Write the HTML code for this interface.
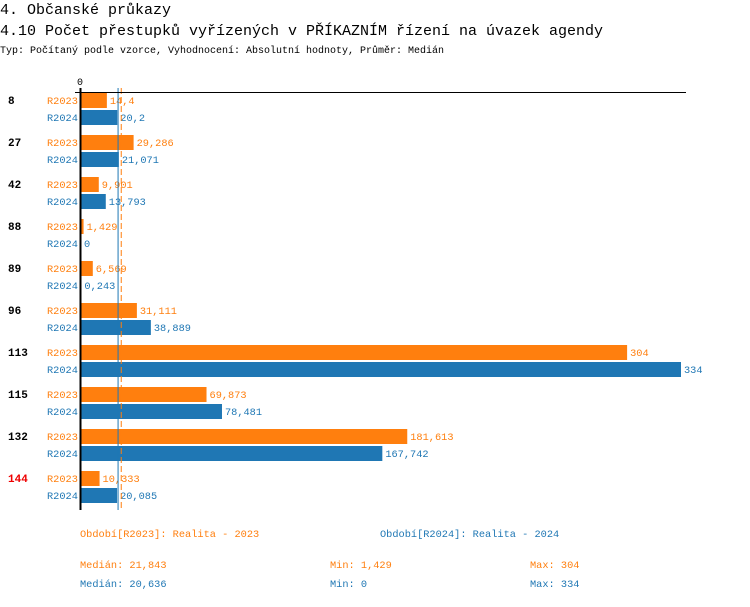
<!DOCTYPE html>
<html><head><meta charset="utf-8"><style>
body{margin:0;background:#fff;width:750px;height:602px;overflow:hidden;font-family:"Liberation Mono",monospace;}
svg text{font-family:"Liberation Mono",monospace;}
</style></head><body>
<svg width="750" height="602">
<text x="0" y="14" font-size="15" textLength="171" lengthAdjust="spacingAndGlyphs" fill="#000">4. Občanské průkazy</text>
<text x="0" y="35" font-size="15" textLength="603" lengthAdjust="spacingAndGlyphs" fill="#000">4.10 Počet přestupků vyřízených v PŘÍKAZNÍM řízení na úvazek agendy</text>
<text x="0" y="53" font-size="10" textLength="444" lengthAdjust="spacingAndGlyphs" fill="#000">Typ: Počítaný podle vzorce, Vyhodnocení: Absolutní hodnoty, Průměr: Medián</text>
<g id="plot"></g>
<g>
<text x="80" y="537" font-size="10.3" fill="#ff7f0e">Období[R2023]: Realita - 2023</text>
<text x="380" y="537" font-size="10.3" fill="#1f77b4">Období[R2024]: Realita - 2024</text>
<text x="80" y="568" font-size="10.3" fill="#ff7f0e">Medián: 21,843</text>
<text x="330" y="568" font-size="10.3" fill="#ff7f0e">Min: 1,429</text>
<text x="530" y="568" font-size="10.3" fill="#ff7f0e">Max: 304</text>
<text x="80" y="587" font-size="10.3" fill="#1f77b4">Medián: 20,636</text>
<text x="330" y="587" font-size="10.3" fill="#1f77b4">Min: 0</text>
<text x="530" y="587" font-size="10.3" fill="#1f77b4">Max: 334</text>
</g>
</svg>
<script>
const categories=["8","27","42","88","89","96","113","115","132","144"];
const values2023=[14.4,29.286,9.901,1.429,6.569,31.111,304,69.873,181.613,10.333];
const values2024=[20.2,21.071,13.793,0,0.243,38.889,334,78.481,167.742,20.085];
const labels2023=["14,4","29,286","9,901","1,429","6,569","31,111","304","69,873","181,613","10,333"];
const labels2024=["20,2","21,071","13,793","0","0,243","38,889","334","78,481","167,742","20,085"];
const median2023=21.843, median2024=20.636;
const x0=81, scale=600/334;
const xs=v=>x0+v*scale;
const ns="http://www.w3.org/2000/svg";
const g=document.getElementById('plot');
function mk(t,a){const e=document.createElementNS(ns,t);for(const k in a)e.setAttribute(k,a[k]);g.appendChild(e);return e;}
categories.forEach((c,i)=>{
  const y=93+i*42;
  let t=mk('text',{x:8,y:y+11,'font-size':11,'font-weight':'bold',fill:i===9?'#e00':'#000'});t.textContent=c;
  
  
  [[values2023,labels2023,'#ff7f0e','R2023',0],[values2024,labels2024,'#1f77b4','R2024',17]].forEach(([vals,labs,col,nm,off])=>{
    const yy=y+off;
    let s=mk('text',{x:47,y:yy+11,'font-size':10.3,fill:col});s.textContent=nm;
    
    
    const r=mk('rect',{x:x0,y:yy,width:Math.max(0,xs(vals[i])-x0),height:15,fill:col});
    
    
    let v=mk('text',{x:xs(vals[i])+3,y:yy+11,'font-size':10.3,fill:col});v.textContent=labs[i];
    
    
  });
});
let l=mk('line',{x1:xs(median2024),x2:xs(median2024),y1:88,y2:510,stroke:'#1f77b4','stroke-width':1});


l=mk('line',{x1:xs(median2023)+1,x2:xs(median2023)+1,y1:88,y2:510,stroke:'#ff7f0e','stroke-width':1,'stroke-dasharray':'6,3'});


l=mk('line',{x1:75,x2:686,y1:92.5,y2:92.5,stroke:'#000','stroke-width':1});


l=mk('line',{x1:80.5,x2:80.5,y1:88,y2:510,stroke:'#000','stroke-width':2});


let z=mk('text',{x:77,y:85,'font-size':10,fill:'#000'});z.textContent='0';


</script>
</body></html>
